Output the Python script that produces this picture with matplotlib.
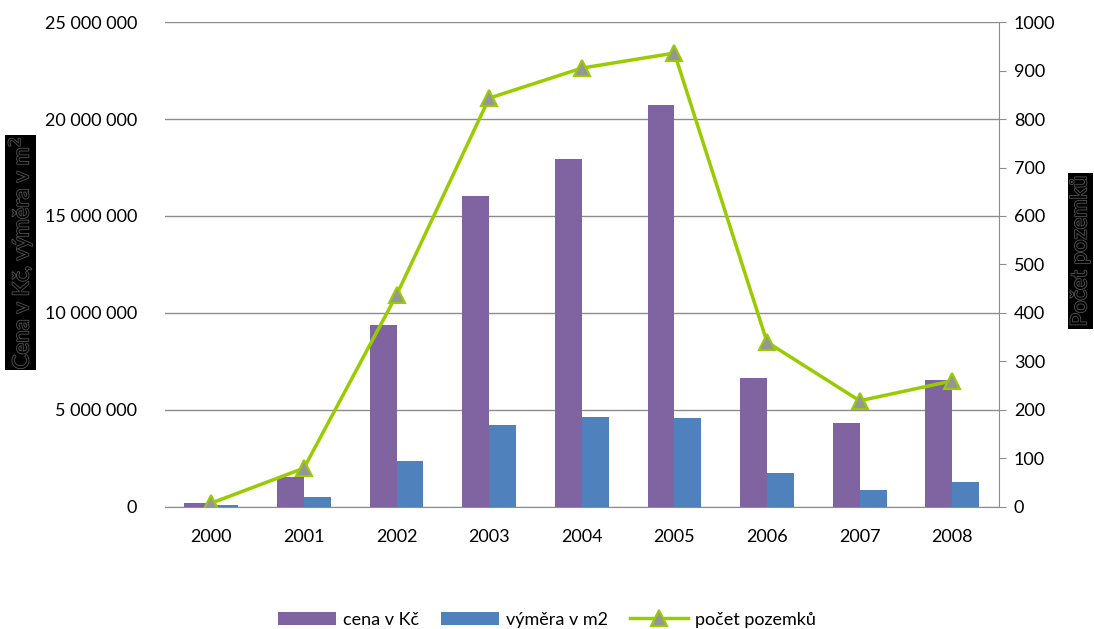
import matplotlib
matplotlib.use("Agg")
import matplotlib.pyplot as plt
import matplotlib.patheffects as pe
import numpy as np

years = ["2000", "2001", "2002", "2003", "2004", "2005", "2006", "2007", "2008"]
cena = [200000, 1560000, 9380000, 16030000, 17940000, 20720000, 6650000, 4330000, 6550000]
vymera = [80000, 520000, 2370000, 4230000, 4640000, 4590000, 1750000, 880000, 1290000]
pocet = [8, 80, 437, 843, 905, 936, 340, 219, 260]
left_ticks = [0, 5000000, 10000000, 15000000, 20000000, 25000000]
right_ticks = list(range(0, 1001, 100))

plt.rcParams['font.family'] = ['Lato', 'DejaVu Sans']

fig = plt.figure(figsize=(10.94, 6.29), dpi=100)
ax = fig.add_axes([0.1508, 0.194, 0.762, 0.771])
ax2 = ax.twinx()

x = np.arange(len(years))
w = 0.29
purple = '#8064A2'
blue = '#4F81BD'
green = '#99CC00'

ax.bar(x - w / 2, cena, width=w, color=purple, zorder=2, label='cena v Kč')
ax.bar(x + w / 2, vymera, width=w, color=blue, zorder=2, label='výměra v m2')
ax2.plot(x, pocet, color=green, lw=2.5, marker='^', ms=12, mfc='#969696',
         mec=green, mew=1.5, zorder=3, label='počet pozemků')

ax.set_xlim(-0.5, len(years) - 0.5)
ax.set_ylim(0, 25000000)
ax2.set_ylim(0, 1000)
ax.set_yticks(left_ticks)
ax.set_yticklabels([f"{v:,}".replace(",", " ") for v in left_ticks])
ax2.set_yticks(right_ticks)
ax.set_xticks(x)
ax.set_xticklabels(years)

ax.grid(axis='y', color='#8c8c8c', lw=1, zorder=0)
ax.set_axisbelow(True)
for s in ['left', 'top', 'right']:
    ax.spines[s].set_visible(False)
for s in ['left', 'top', 'bottom']:
    ax2.spines[s].set_visible(False)
ax.spines['bottom'].set_color('#8c8c8c')
ax2.spines['right'].set_color('#8c8c8c')
ax.tick_params(axis='y', length=0, pad=20, labelsize=13)
ax.tick_params(axis='x', length=0, pad=16, labelsize=13)
ax2.tick_params(axis='y', length=5, color='#8c8c8c', pad=6, labelsize=13)

eff = [pe.withStroke(linewidth=1.2, foreground='#555555')]
fig.text(0.019, 0.598, "Cena v Kč, výměra v m$^2$", rotation=90, ha='center', va='center',
         fontsize=16, color='black', path_effects=eff,
         bbox=dict(boxstyle='square,pad=0.05', fc='black', ec='none'))
fig.text(0.9875, 0.601, "Počet pozemků", rotation=90, ha='center', va='center',
         fontsize=16, color='black', path_effects=eff,
         bbox=dict(boxstyle='square,pad=0.12', fc='black', ec='none'))

h1, l1 = ax.get_legend_handles_labels()
h2, l2 = ax2.get_legend_handles_labels()
fig.legend(h1 + h2, l1 + l2, loc='center', bbox_to_anchor=(0.5, 0.015), ncol=3,
           frameon=False, fontsize=13, handlelength=3.2, columnspacing=1.2,
           handletextpad=0.4)

fig.savefig("out.png", dpi=100)
